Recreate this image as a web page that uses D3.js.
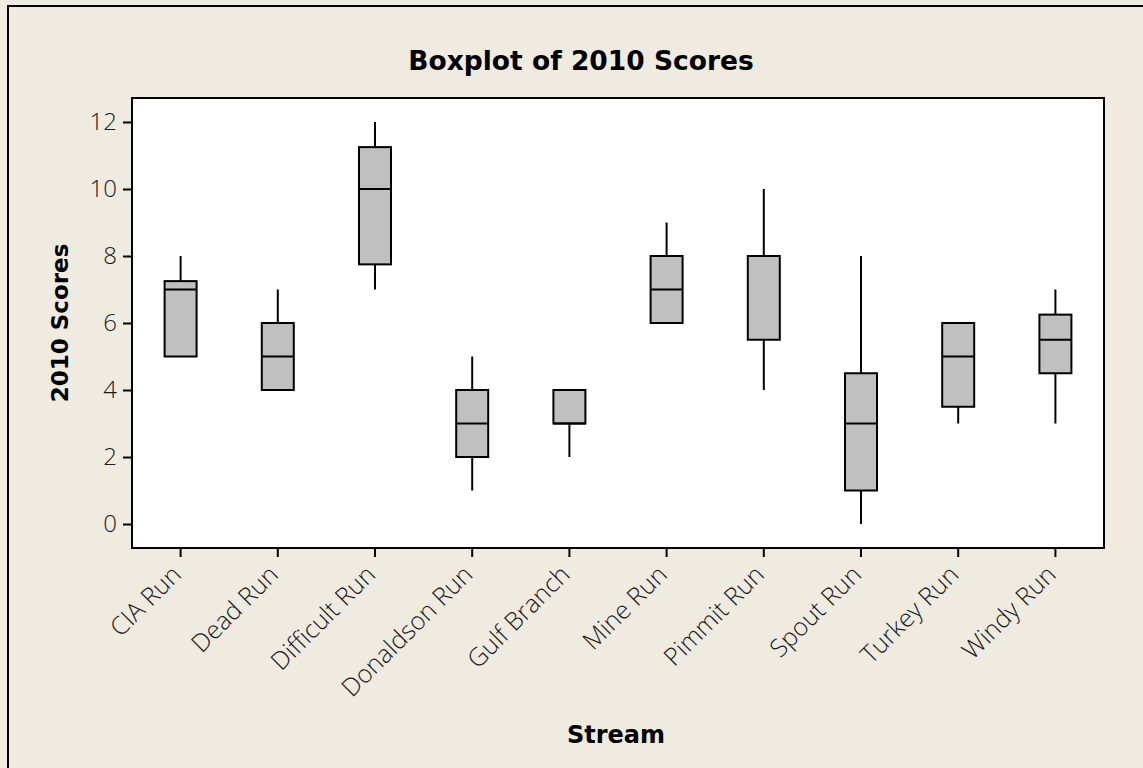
<!DOCTYPE html>
<html>
<head>
<meta charset="utf-8">
<script src="https://cdn.jsdelivr.net/npm/d3@7/dist/d3.min.js"></script>
<style>
  html, body { margin: 0; padding: 0; background: #EFEBE1; overflow: hidden; }
  .tick text { font-family: "Open Sans", "DejaVu Sans", sans-serif; font-weight: 300; fill: #1a1a1a; }
  .bold { font-family: "DejaVu Sans", Tahoma, sans-serif; font-weight: bold; fill: #000; }
</style>
</head>
<body>
<svg id="chart" width="1143" height="768"></svg>
<script>
// Stream categories and five-number summaries of the 2010 scores
const streams = ["CIA Run", "Dead Run", "Difficult Run", "Donaldson Run", "Gulf Branch",
                 "Mine Run", "Pimmit Run", "Spout Run", "Turkey Run", "Windy Run"];
const whiskerLow  = [5,    4, 7,     1, 2, 6, 4,   0,   3,   3];
const q1          = [5,    4, 7.75,  2, 3, 6, 5.5, 1,   3.5, 4.5];
const median      = [7,    5, 10,    3, 3, 7, 8,   3,   5,   5.5];
const q3          = [7.25, 6, 11.25, 4, 4, 8, 8,   4.5, 6,   6.25];
const whiskerHigh = [8,    7, 12,    5, 4, 9, 10,  8,   6,   7];
const yTicks = [0, 2, 4, 6, 8, 10, 12];

const svg = d3.select("#chart");

// outer frame of the figure
svg.append("rect")
  .attr("x", 8).attr("y", 6).attr("width", 1160).attr("height", 800)
  .attr("fill", "#EFEBE1").attr("stroke", "#000").attr("stroke-width", 2);

const plot = { left: 132, right: 1104, top: 98, bottom: 548 };

const x = d3.scaleBand().domain(streams).range([plot.left, plot.right]).padding(0);
const y = d3.scaleLinear().domain([-0.716, 12.716]).range([plot.bottom, plot.top]);

// plot area
svg.append("rect")
  .attr("x", plot.left).attr("y", plot.top)
  .attr("width", plot.right - plot.left).attr("height", plot.bottom - plot.top)
  .attr("fill", "#fff");

// axes
const yAxis = svg.append("g")
  .attr("transform", `translate(${plot.left},0)`)
  .call(d3.axisLeft(y).tickValues(yTicks).tickSize(9).tickSizeOuter(0).tickPadding(6));
yAxis.select(".domain").remove();
yAxis.selectAll(".tick line").attr("stroke", "#000").attr("stroke-width", 2);
yAxis.selectAll(".tick text").style("font-size", "24px");

const xAxis = svg.append("g")
  .attr("transform", `translate(0,${plot.bottom})`)
  .call(d3.axisBottom(x).tickSize(9).tickSizeOuter(0));
xAxis.select(".domain").remove();
xAxis.selectAll(".tick line").attr("stroke", "#000").attr("stroke-width", 2);
xAxis.selectAll(".tick text")
  .style("font-size", "25px")
  .attr("text-anchor", "end")
  .attr("x", 0).attr("y", 0).attr("dy", 0)
  .attr("transform", "translate(2,28) rotate(-45)");

// boxes
const bw = 32;
const g = svg.append("g");
streams.forEach((s, i) => {
  const cx = x(s) + x.bandwidth() / 2;
  // whiskers
  g.append("line")
    .attr("x1", cx).attr("x2", cx)
    .attr("y1", y(q3[i])).attr("y2", y(whiskerHigh[i]))
    .attr("stroke", "#000").attr("stroke-width", 2);
  g.append("line")
    .attr("x1", cx).attr("x2", cx)
    .attr("y1", y(q1[i])).attr("y2", y(whiskerLow[i]))
    .attr("stroke", "#000").attr("stroke-width", 2);
  // interquartile box
  g.append("rect")
    .attr("x", cx - bw / 2).attr("y", y(q3[i]))
    .attr("width", bw).attr("height", y(q1[i]) - y(q3[i]))
    .attr("fill", "#C0C0C0").attr("stroke", "#000").attr("stroke-width", 2);
  // median
  g.append("line")
    .attr("x1", cx - bw / 2).attr("x2", cx + bw / 2)
    .attr("y1", y(median[i])).attr("y2", y(median[i]))
    .attr("stroke", "#000").attr("stroke-width", 2);
});

// plot border on top
svg.append("rect")
  .attr("x", plot.left).attr("y", plot.top)
  .attr("width", plot.right - plot.left).attr("height", plot.bottom - plot.top)
  .attr("fill", "none").attr("stroke", "#000").attr("stroke-width", 2);

// titles
svg.append("text").attr("class", "bold")
  .attr("x", 581).attr("y", 70).attr("text-anchor", "middle")
  .style("font-size", "26.5px").text("Boxplot of 2010 Scores");

svg.append("text").attr("class", "bold")
  .attr("x", 616).attr("y", 743).attr("text-anchor", "middle")
  .style("font-size", "24px").text("Stream");

svg.append("text").attr("class", "bold")
  .attr("transform", `translate(68,${(plot.top + plot.bottom) / 2}) rotate(-90)`)
  .attr("text-anchor", "middle")
  .style("font-size", "23px").text("2010 Scores");
</script>
</body>
</html>
